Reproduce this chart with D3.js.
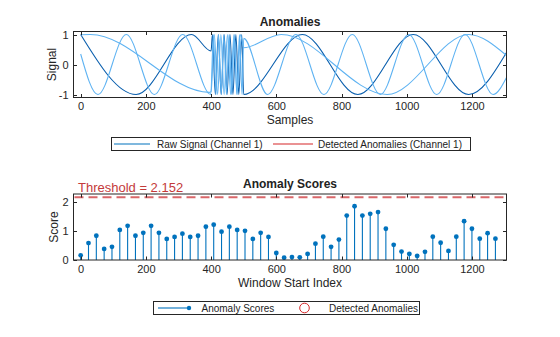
<!DOCTYPE html>
<html><head><meta charset="utf-8">
<script src="https://cdn.jsdelivr.net/npm/d3@7"></script>
<style>
body{margin:0;background:#fff;}
svg{display:block;font-family:"Liberation Sans",Arial,Helvetica,sans-serif;}
</style></head>
<body>
<svg id="chart" width="560" height="337"></svg>
<script>
// ---------- DATA ----------
// Raw signal, channel 1 (dark): [sample, value] at turning points
const ch1Sample = [0,170,340,400,404,413,422,431,440,449,458,467,476,485,494,500,680,850,1020,1190,1306];
const ch1Value  = [1,-1,1,0.45,1,-1,1,-1,1,-1,1,-1,1,-1,1,-1,1,-1,1,-1,0.4];
// Other raw channel, slow (light)
const ch2Sample = [0,30,395,400,410,420,430,440,450,460,470,480,490,500,615,940,1190,1306];
const ch2Value  = [0.99,1,-0.93,-0.9,1,-1,1,-1,1,-1,1,-1,1,0.56,1,-1,1,0.3];
// Other raw channel, fast (light)
const ch3Sample = [0,53,140,226,313,399,407,415,423,431,439,447,455,463,471,479,487,495,500,573,660,746,833,919,1006,1092,1179,1265,1306];
const ch3Value  = [0.35,-1,1,-1,1,-1,1,-1,1,-1,1,-1,1,-1,1,-1,1,-1,0.87,-1,1,-1,1,-1,1,-1,1,-1,-0.43];

// Anomaly scores (window start index step 24)
const windowStart = d3.range(0, 1273, 24);
const scores = [0.16,0.58,0.83,0.38,0.45,1.03,1.17,0.83,0.93,1.17,
                0.93,0.72,0.79,0.90,0.79,0.83,1.14,1.21,0.97,1.14,
                1.03,1.00,0.72,0.93,0.79,0.24,0.08,0.10,0.09,0.21,
                0.56,0.80,0.45,0.70,1.52,1.84,1.52,1.58,1.64,1.07,
                0.52,0.29,0.21,0.14,0.28,0.80,0.59,0.31,0.80,1.33,
                1.07,0.73,0.92,0.73];
const threshold = 2.152;

const xTicks = [0,200,400,600,800,1000,1200];
const yTicksTop = [-1,0,1];
const yTicksBottom = [0,1,2];

// ---------- LAYOUT ----------
const svg = d3.select("#chart");
const L = 73.5, R = 506.5;
const top1 = 31.5, bot1 = 97.5;
const top2 = 194, bot2 = 260;
const axisColor = "#262626";
const dark = "#0a5fae", light = "#5fb3f2", stemColor = "#0072BD";

const x = d3.scaleLinear().domain([-22, 1306]).range([L, R]);
const y1 = d3.scaleLinear().domain([-1.1, 1.1]).range([bot1, top1]);
const y2 = d3.scaleLinear().domain([0, 2.26]).range([bot2, top2]);

function frame(yScale, yTicks, yTop, yBot){
  const g = svg.append("g");
  const tl = 3.5;
  xTicks.forEach(t=>{
    const px = Math.round(x(t))+0.5;
    g.append("line").attr("x1",px).attr("x2",px).attr("y1",yBot).attr("y2",yBot-tl).attr("stroke",axisColor);
    g.append("line").attr("x1",px).attr("x2",px).attr("y1",yTop).attr("y2",yTop+tl).attr("stroke",axisColor);
  });
  yTicks.forEach(t=>{
    const py = Math.round(yScale(t))+0.5;
    g.append("line").attr("x1",L).attr("x2",L+tl).attr("y1",py).attr("y2",py).attr("stroke",axisColor);
    g.append("line").attr("x1",R).attr("x2",R-tl).attr("y1",py).attr("y2",py).attr("stroke",axisColor);
  });
  g.append("rect").attr("x",L).attr("y",yTop).attr("width",R-L).attr("height",yBot-yTop)
    .attr("fill","none").attr("stroke",axisColor).attr("stroke-width",1);
  const xa = d3.axisBottom(x).tickValues(xTicks).tickSize(0).tickPadding(0).tickFormat(d3.format("d"));
  const gx = g.append("g").attr("transform",`translate(0,${yBot+2.5})`).call(xa);
  gx.select(".domain").remove();
  gx.selectAll("text").attr("font-size",11).attr("fill",axisColor).attr("font-family","Liberation Sans, Arial, sans-serif").attr("dy","0.95em");
  const ya = d3.axisLeft(yScale).tickValues(yTicks).tickSize(0).tickPadding(0).tickFormat(d3.format("d"));
  const gy = g.append("g").attr("transform",`translate(${L-5},0)`).call(ya);
  gy.select(".domain").remove();
  gy.selectAll("text").attr("font-size",11).attr("fill",axisColor).attr("font-family","Liberation Sans, Arial, sans-serif");
  gy.selectAll("text").text(d=> d<0 ? "-"+Math.abs(d) : d);
  return g;
}

// ---------- TOP PLOT ----------
svg.append("clipPath").attr("id","c1").append("rect")
  .attr("x",L).attr("y",top1).attr("width",R-L).attr("height",bot1-top1);
const line1 = d3.line().x(d=>x(d[0])).y(d=>y1(d[1])).curve(d3.curveMonotoneX);
const gLines = svg.append("g").attr("clip-path","url(#c1)");
const series = [
  {s:ch1Sample, v:ch1Value, c:dark},
  {s:ch2Sample, v:ch2Value, c:light},
  {s:ch3Sample, v:ch3Value, c:light}
];
series.forEach(sr=>{
  gLines.append("path").datum(d3.zip(sr.s, sr.v)).attr("d",line1)
    .attr("fill","none").attr("stroke",sr.c).attr("stroke-width",1.1);
});
frame(y1, yTicksTop, top1, bot1);

svg.append("text").attr("x",(L+R)/2).attr("y",26).attr("text-anchor","middle")
  .attr("font-size",12).attr("font-weight","bold").attr("fill","#222").text("Anomalies");
svg.append("text").attr("x",(L+R)/2).attr("y",124).attr("text-anchor","middle")
  .attr("font-size",12).attr("fill",axisColor).text("Samples");
svg.append("text").attr("transform",`translate(55.5,${(top1+bot1)/2}) rotate(-90)`).attr("text-anchor","middle")
  .attr("font-size",12).attr("fill",axisColor).text("Signal");

// top legend
const lg1 = svg.append("g");
lg1.append("rect").attr("x",111.5).attr("y",137.5).attr("width",359).attr("height",13)
  .attr("fill","#fff").attr("stroke",axisColor);
lg1.append("line").attr("x1",114).attr("x2",150).attr("y1",144).attr("y2",144).attr("stroke","#0072BD").attr("stroke-width",1.1);
lg1.append("text").attr("x",157).attr("y",147.5).attr("font-size",10).attr("fill","#222").text("Raw Signal (Channel 1)");
lg1.append("line").attr("x1",273).attr("x2",313).attr("y1",144).attr("y2",144).attr("stroke","#d62728").attr("stroke-width",1.1);
lg1.append("text").attr("x",318).attr("y",147.5).attr("font-size",10).attr("fill","#222").text("Detected Anomalies (Channel 1)");

// ---------- BOTTOM PLOT ----------
const gStems = svg.append("g");
const stemData = d3.zip(windowStart, scores);
gStems.selectAll("line.stem").data(stemData).join("line").attr("class","stem")
  .attr("x1",d=>x(d[0])).attr("x2",d=>x(d[0])).attr("y1",y2(0)).attr("y2",d=>y2(d[1]))
  .attr("stroke",stemColor).attr("stroke-width",1.1);
gStems.selectAll("circle").data(stemData).join("circle")
  .attr("cx",d=>x(d[0])).attr("cy",d=>y2(d[1])).attr("r",2.4).attr("fill",stemColor);
svg.append("line").attr("x1",L).attr("x2",R).attr("y1",y2(threshold)).attr("y2",y2(threshold))
  .attr("stroke","#d9676a").attr("stroke-width",2).attr("stroke-dasharray","9,5").attr("stroke-dashoffset",-1);
frame(y2, yTicksBottom, top2, bot2);

svg.append("text").attr("x",78).attr("y",192).attr("font-size",13).attr("fill","#c43a3a")
  .text("Threshold = " + threshold);
svg.append("text").attr("x",(L+R)/2).attr("y",188).attr("text-anchor","middle")
  .attr("font-size",12).attr("font-weight","bold").attr("fill","#222").text("Anomaly Scores");
svg.append("text").attr("x",(L+R)/2).attr("y",286.5).attr("text-anchor","middle")
  .attr("font-size",12).attr("fill",axisColor).text("Window Start Index");
svg.append("text").attr("transform",`translate(57.5,${(top2+bot2)/2}) rotate(-90)`).attr("text-anchor","middle")
  .attr("font-size",12).attr("fill",axisColor).text("Score");

// bottom legend
const lg2 = svg.append("g");
lg2.append("rect").attr("x",153.5).attr("y",301.5).attr("width",266).attr("height",13)
  .attr("fill","#fff").attr("stroke",axisColor);
lg2.append("line").attr("x1",158).attr("x2",189).attr("y1",308).attr("y2",308).attr("stroke",stemColor).attr("stroke-width",1.1);
lg2.append("circle").attr("cx",189).attr("cy",308).attr("r",2.2).attr("fill",stemColor);
lg2.append("text").attr("x",201.5).attr("y",311.5).attr("font-size",10).attr("fill","#222").text("Anomaly Scores");
lg2.append("circle").attr("cx",304.5).attr("cy",308).attr("r",4.8).attr("fill","none").attr("stroke","#d62728").attr("stroke-width",1);
lg2.append("text").attr("x",329).attr("y",311.5).attr("font-size",10).attr("fill","#222").text("Detected Anomalies");
</script>
</body></html>
